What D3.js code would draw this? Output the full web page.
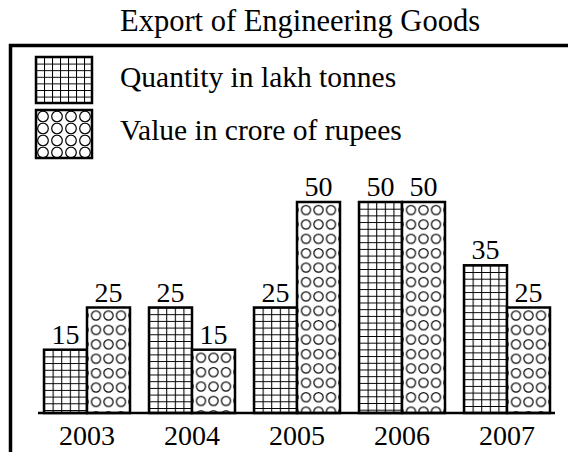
<!DOCTYPE html>
<html>
<head>
<meta charset="utf-8">
<script src="https://cdn.jsdelivr.net/npm/d3@7"></script>
<style>
  body { margin: 0; background: #fff; }
  svg { display: block; }
  text { font-family: "Liberation Serif", "Times New Roman", serif; fill: #000; }
</style>
</head>
<body>
<div id="chart"></div>
<script>
// --- DATA ---
const title = "Export of Engineering Goods";
const years = ["2003", "2004", "2005", "2006", "2007"];
const quantity = [15, 25, 25, 50, 35];   // lakh tonnes
const value = [25, 15, 50, 50, 25];      // crore of rupees
const seriesKeys = ["q", "v"];
const seriesNames = ["Quantity in lakh tonnes", "Value in crore of rupees"];

const W = 568, H = 452;
const svg = d3.select("#chart").append("svg").attr("width", W).attr("height", H);
const defs = svg.append("defs");

// --- SCALES ---
const step = 105, barsW = 86;
const pin = (step - barsW) / step;
const x0 = d3.scaleBand().domain(years).range([34.5, 559.5])
    .paddingInner(pin).paddingOuter(pin / 2);
const x1 = d3.scaleBand().domain(seriesKeys).range([0, x0.bandwidth()]);
const y = d3.scaleLinear().domain([0, 50]).range([413, 202]);

// --- PATTERNS ---
function gridPattern(id, px, py, w, h) {
    const p = defs.append("pattern").attr("id", id).attr("patternUnits", "userSpaceOnUse")
        .attr("x", px).attr("y", py).attr("width", w).attr("height", h);
    p.append("rect").attr("width", w).attr("height", h).attr("fill", "#fff");
    p.append("path").attr("d", `M0,0.5H${w}M0.5,0V${h}`)
        .attr("stroke", "#000").attr("stroke-width", 1.1).attr("fill", "none");
}
function circlePattern(id, px, py, w, h, cy, r) {
    const p = defs.append("pattern").attr("id", id).attr("patternUnits", "userSpaceOnUse")
        .attr("x", px).attr("y", py).attr("width", w).attr("height", h);
    p.append("rect").attr("width", w).attr("height", h).attr("fill", "#fff");
    p.append("circle").attr("cx", w / 2).attr("cy", cy).attr("r", r)
        .attr("fill", "none").attr("stroke", "#000").attr("stroke-width", 1.2);
}

const rows = years.map((yr, i) => ({ year: yr, q: quantity[i], v: value[i] }));
const bars = [];
rows.forEach((d, i) => {
    seriesKeys.forEach(k => {
        const bx = x0(d.year) + x1(k);
        const by = y(d[k]);
        const id = `pat-${k}-${i}`;
        if (k === "q") gridPattern(id, bx, by, x1.bandwidth() / 5, 6.7);
        else circlePattern(id, bx + 2.75, by, 12.5, 14.4, 8, 4.6);
        bars.push({ key: k, year: d.year, val: d[k], x: bx, y: by, id });
    });
});

// --- FRAME ---
svg.append("path").attr("d", `M10.5,${H}V45.5H${W}`)
    .attr("fill", "none").attr("stroke", "#000").attr("stroke-width", 3.5);

// --- TITLE ---
svg.append("text").attr("x", 300).attr("y", 31).attr("text-anchor", "middle")
    .style("font-size", "30.5px").text(title);

// --- LEGEND ---
const legend = svg.append("g");
gridPattern("leg-grid", 36, 57, 8, 6.6);
circlePattern("leg-circ", 36, 110, 14, 12, 6.5, 5.3);
const legItems = [
    { name: seriesNames[0], fill: "url(#leg-grid)", y: 57, h: 46, ty: 87 },
    { name: seriesNames[1], fill: "url(#leg-circ)", y: 110, h: 48, ty: 140 }
];
legItems.forEach(it => {
    legend.append("rect").attr("x", 36).attr("y", it.y).attr("width", 56).attr("height", it.h)
        .attr("fill", it.fill).attr("stroke", "#000").attr("stroke-width", 2.5);
    legend.append("text").attr("x", 120).attr("y", it.ty)
        .style("font-size", "29.5px").text(it.name);
});

// --- BARS ---
svg.append("g").selectAll("rect").data(bars).join("rect")
    .attr("x", d => d.x).attr("y", d => d.y)
    .attr("width", x1.bandwidth()).attr("height", d => y(0) - d.y)
    .attr("fill", d => `url(#${d.id})`)
    .attr("stroke", "#000").attr("stroke-width", 2.5);

// --- VALUE LABELS ---
svg.append("g").selectAll("text").data(bars).join("text")
    .attr("x", d => d.x + x1.bandwidth() / 2).attr("y", d => d.y - 6)
    .attr("text-anchor", "middle").style("font-size", "28px")
    .text(d => d.val);

// --- AXIS ---
const axis = svg.append("g").attr("transform", `translate(0,${y(0)})`)
    .call(d3.axisBottom(x0).tickSize(0).tickSizeOuter(0));
axis.select(".domain").attr("d", "M38,0H555").attr("stroke", "#000").attr("stroke-width", 2.5);
axis.selectAll(".tick text").attr("y", 32).attr("dy", 0)
    .style("font-size", "28px").style("font-family", "Liberation Serif, serif").attr("fill", "#000");
</script>
</body>
</html>
